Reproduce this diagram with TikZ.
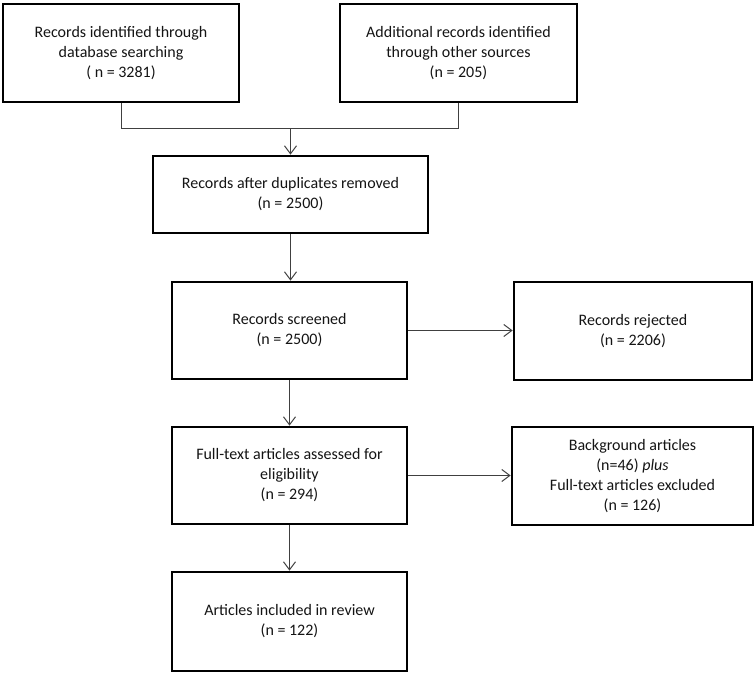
\documentclass[tikz,border=0pt]{standalone}
\usepackage{fontspec}
\setmainfont{Carlito}
\usetikzlibrary{arrows.meta}
\begin{document}
\begin{tikzpicture}[x=1pt,y=-1pt,
  box/.style={draw=black, line width=2.8pt, rectangle, align=center,
    font=\fontsize{16}{20}\selectfont, text=black!92, inner sep=0pt},
  conn/.style={draw=black!75, line width=1pt},
  arr/.style={conn, -{Straight Barb[length=8pt,width=12pt]}}]
\useasboundingbox (0,0) rectangle (755,675);
\node[box, minimum width=236pt, minimum height=98pt] (b1) at (121,53)
  {Records identified through\\database searching\\( n = 3281)};
\node[box, minimum width=237pt, minimum height=98pt] (b2) at (458.5,53)
  {Additional records identified\\through other sources\\(n = 205)};
\node[box, minimum width=275pt, minimum height=77pt] (b3) at (290.5,194.5)
  {Records after duplicates removed\\(n = 2500)};
\node[box, minimum width=235pt, minimum height=97pt] (b4) at (289.5,330.5)
  {Records screened\\(n = 2500)};
\node[box, minimum width=238pt, minimum height=98pt] (b5) at (633,331)
  {Records rejected\\(n = 2206)};
\node[box, minimum width=235pt, minimum height=97pt] (b6) at (289.5,475.5)
  {Full-text articles assessed for\\eligibility\\(n = 294)};
\node[box, minimum width=241pt, minimum height=98pt] (b7) at (632.5,476)
  {Background articles\\(n=46) \textit{plus}\\Full-text articles excluded\\(n = 126)};
\node[box, minimum width=235pt, minimum height=99pt] (b8) at (289.5,621.5)
  {Articles included in review\\(n = 122)};
\coordinate (j) at (290.5,128);
\draw[conn] (b1.south) |- (j);
\draw[conn] (b2.south) |- (j);
\draw[arr] (j) -- (b3.north);
\draw[arr] (b3.south) -- (b3.south |- b4.north);
\draw[arr] (b4.east) -- (b5.west |- b4.east);
\draw[arr] (b4.south) -- (b6.north);
\draw[arr] (b6.east) -- (b7.west |- b6.east);
\draw[arr] (b6.south) -- (b8.north);
\end{tikzpicture}
\end{document}
